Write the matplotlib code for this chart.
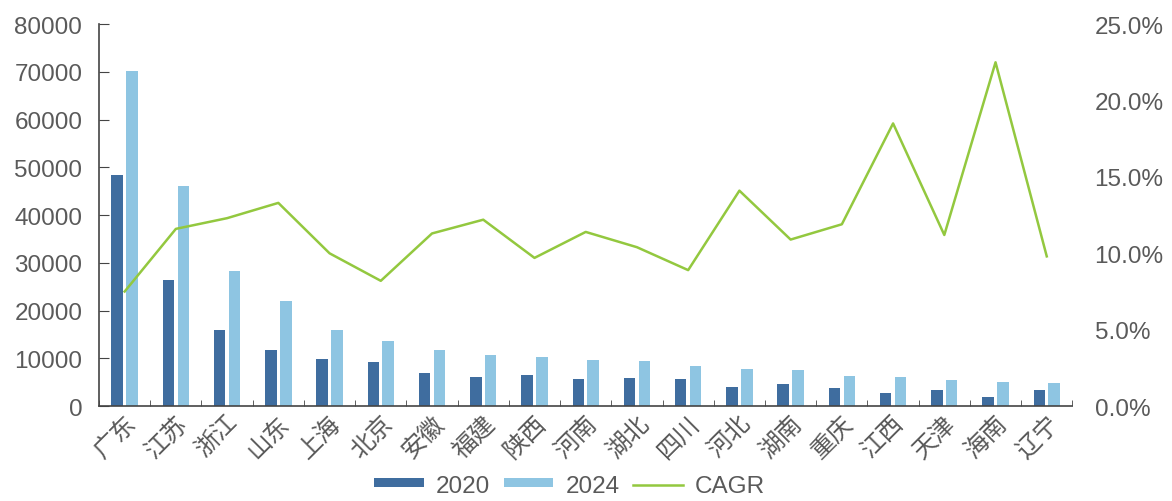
import numpy as np
import matplotlib
matplotlib.use("Agg")
from matplotlib import pyplot as plt
from matplotlib.ticker import FuncFormatter, MultipleLocator

plt.rcParams['font.family'] = ['Liberation Sans', 'Noto Sans CJK SC', 'DejaVu Sans']

provinces = ["广东", "江苏", "浙江", "山东", "上海", "北京", "安徽", "福建", "陕西", "河南",
             "湖北", "四川", "河北", "湖南", "重庆", "江西", "天津", "海南", "辽宁"]
v2020 = [48500, 26500, 15900, 11800, 9900, 9200, 6900, 6000, 6600, 5700,
         5900, 5700, 4100, 4700, 3800, 2700, 3400, 2000, 3300]
v2024 = [70200, 46000, 28400, 22100, 16000, 13700, 11800, 10800, 10300, 9700,
         9500, 8400, 7700, 7600, 6400, 6100, 5500, 5000, 4900]
cagr = [7.5, 11.6, 12.3, 13.3, 10.0, 8.2, 11.3, 12.2, 9.7, 11.4,
        10.4, 8.9, 14.1, 10.9, 11.9, 18.5, 11.2, 22.5, 9.8]

c2020 = "#3f6d9f"
c2024 = "#8ec5e2"
cline = "#93c83f"
tcol = "#5a5a5a"

fig = plt.figure(figsize=(11.72, 5.02), dpi=100)
ax = fig.add_axes([0.0845, 0.189, 0.8305, 0.761])
x = np.arange(len(provinces))
w = 0.225

b1 = ax.bar(x - 0.145, v2020, w, color=c2020, label="2020")
b2 = ax.bar(x + 0.145, v2024, w, color=c2024, label="2024")

ax.set_xlim(-0.5, len(provinces) - 0.5)
ax.set_ylim(0, 80000)
ax.yaxis.set_major_locator(MultipleLocator(10000))
ax.set_xticks(x)
ax.set_xticklabels(provinces, rotation=45, ha="right", rotation_mode="anchor",
                   fontsize=17.5, color=tcol)
ax.set_xticks(np.arange(-0.5, len(provinces)), minor=True)
ax.tick_params(axis="x", which="major", length=0, pad=4)
ax.tick_params(axis="x", which="minor", length=4, direction="in", color="#444444")
ax.tick_params(axis="y", direction="in", length=7, labelsize=17.5, labelcolor=tcol,
               color="#444444", pad=12)
for s in ["top", "right"]:
    ax.spines[s].set_visible(False)
for s in ["left", "bottom"]:
    ax.spines[s].set_color("#444444")
    ax.spines[s].set_linewidth(1.2)

ax2 = ax.twinx()
ln, = ax2.plot(x, cagr, color=cline, lw=1.8, label="CAGR")
ax2.set_ylim(0, 25)
ax2.yaxis.set_major_locator(MultipleLocator(5))
ax2.yaxis.set_major_formatter(FuncFormatter(lambda v, p: f"{v:.1f}%"))
ax2.tick_params(axis="y", length=0, labelsize=17.5, labelcolor=tcol, pad=16)
for s in ax2.spines.values():
    s.set_visible(False)

fig.legend([b1, b2, ln], ["2020", "2024", "CAGR"], loc="lower center",
           bbox_to_anchor=(0.486, -0.035), ncol=3, frameon=False, fontsize=17.5,
           handlelength=2.05, handleheight=0.2, columnspacing=0.55, handletextpad=0.5,
           labelcolor=tcol)

fig.savefig("out.png", dpi=100)
